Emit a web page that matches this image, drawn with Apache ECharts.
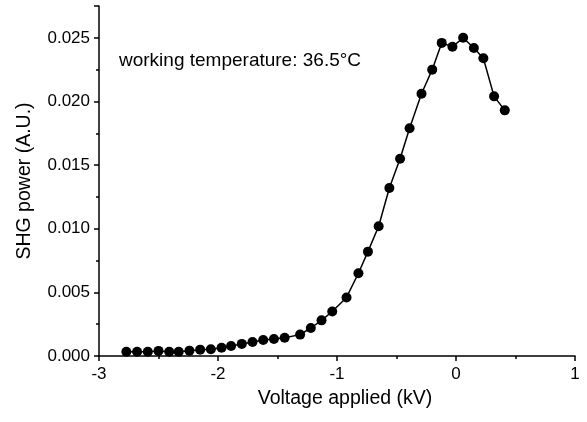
<!DOCTYPE html>
<html>
<head>
<meta charset="utf-8">
<script src="https://cdn.jsdelivr.net/npm/echarts@6/dist/echarts.min.js"></script>
<style>
  html, body { margin: 0; padding: 0; background: #fff; }
  #chart { width: 587px; height: 422px; }
</style>
</head>
<body>
<div id="chart"></div>
<script>
// applied voltage (kV)
var voltage = [-2.77, -2.68, -2.59, -2.50, -2.41, -2.33, -2.24, -2.15, -2.06, -1.97,
  -1.89, -1.80, -1.71, -1.62, -1.53, -1.44, -1.31, -1.22, -1.13, -1.04,
  -0.92, -0.82, -0.74, -0.65, -0.56, -0.47, -0.39, -0.29, -0.20, -0.12,
  -0.03, 0.06, 0.15, 0.23, 0.32, 0.41]
// SHG power (A.U.)
var shgPower = [0.00034, 0.00034, 0.00034, 0.0004, 0.00034, 0.00034, 0.00042, 0.0005, 0.00053, 0.00065,
  0.00079, 0.00095, 0.0011, 0.00126, 0.00134, 0.00144, 0.00168, 0.0022, 0.0028, 0.0035,
  0.0046, 0.0065, 0.0082, 0.0102, 0.0132, 0.0155, 0.0179, 0.0206, 0.0225, 0.0246,
  0.0243, 0.0250, 0.0242, 0.0234, 0.0204, 0.0193]

var font = 'Liberation Sans, Arial, sans-serif'
var chart = echarts.init(document.getElementById('chart'))

chart.setOption({
  animation: false,
  grid: { left: 99, right: 12, top: 6, bottom: 66 },
  xAxis: {
    type: 'value',
    min: -3, max: 1, interval: 1,
    name: 'Voltage applied (kV)',
    nameLocation: 'middle',
    nameGap: 33,
    nameTextStyle: { color: '#000', fontSize: 19.5, fontFamily: font, padding: [0, 0, 0, 16] },
    axisLine: { onZero: false, lineStyle: { color: '#000', width: 1.5 } },
    axisTick: { length: 5, lineStyle: { color: '#000', width: 1.5 } },
    minorTick: { show: true, splitNumber: 2, length: 3, lineStyle: { color: '#000', width: 1.5 } },
    axisLabel: { color: '#000', fontSize: 17, fontFamily: font, margin: 10 },
    splitLine: { show: false }
  },
  yAxis: {
    type: 'value',
    min: 0, max: 0.0275, interval: 0.005,
    name: 'SHG power (A.U.)',
    nameLocation: 'middle',
    nameGap: 64,
    nameTextStyle: { color: '#000', fontSize: 19.5, fontFamily: font },
    axisLine: { show: true, onZero: false, lineStyle: { color: '#000', width: 1.5 } },
    axisTick: { show: true, length: 5, lineStyle: { color: '#000', width: 1.5 } },
    minorTick: { show: true, splitNumber: 2, length: 3, lineStyle: { color: '#000', width: 1.5 } },
    axisLabel: {
      color: '#000', fontSize: 17, fontFamily: font, margin: 9,
      showMaxLabel: false,
      formatter: function (v) { return v.toFixed(3) }
    },
    splitLine: { show: false }
  },
  graphic: [{
    type: 'text',
    left: 119,
    top: 51,
    style: {
      text: 'working temperature: 36.5°C',
      fill: '#000',
      fontSize: 19,
      fontFamily: font
    }
  }],
  series: [{
    type: 'line',
    data: voltage.map(function (v, i) { return [v, shgPower[i]] }),
    symbol: 'circle',
    symbolSize: 10,
    itemStyle: { color: '#000' },
    lineStyle: { color: '#000', width: 1.5 }
  }]
})
</script>
</body>
</html>
